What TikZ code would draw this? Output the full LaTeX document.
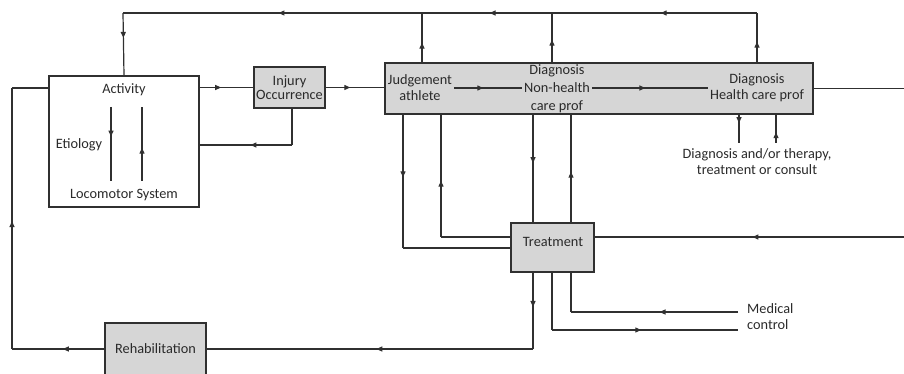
\documentclass[tikz,border=0pt]{standalone}
\usepackage{fontspec}
\setmainfont{Carlito}
\usetikzlibrary{arrows.meta,decorations.markings}
\definecolor{linec}{HTML}{303030}
\definecolor{boxfill}{HTML}{D6D6D6}
\definecolor{txtc}{HTML}{2A2A2A}
\tikzset{
  box/.style={draw=linec, line width=1.2pt, fill=boxfill, inner sep=0pt, align=center, text=txtc},
  plainbox/.style={draw=linec, line width=1.2pt, fill=white, inner sep=0pt},
  lbl/.style={inner sep=2pt, align=center, text=txtc},
  wire/.style={draw=linec, line width=1.2pt},
  midtip/.style={postaction=decorate, decoration={markings,
      mark=at position #1 with {\arrow{Triangle[length=6pt,width=5pt]}}}},
  midtip/.default=0.5
}
\begin{document}
\begin{tikzpicture}[x=1pt, y=-1pt, font=\fontsize{14.3}{18}\selectfont]
\useasboundingbox (0,0) rectangle (904,374);
\clip (0,0) rectangle (904,374);

% boxes
\node[plainbox, minimum width=150pt, minimum height=131pt] (act) at (124,141.5) {};
\node[box, minimum width=71pt, minimum height=41pt] (inj) at (289.5,87.5) {};
\node[box, minimum width=428pt, minimum height=51pt] (big) at (599,88.5) {};
\node[box, minimum width=83pt, minimum height=49pt] (treat) at (552.5,247.5) {};
\node[box, minimum width=101pt, minimum height=52pt] (rehab) at (155.5,349) {Rehabilitation};

% caption of the injury box
\node[lbl, inner sep=0pt] (injtxt) at (289.5,87.5) {Injury\\[-4pt]Occurrence};

% texts inside the activity box
\node[lbl] (activity) at (124,90) {Activity};
\node[lbl] (etio) at (79,145) {Etiology};
\node[lbl] (loco) at (124,195) {Locomotor System};

% texts inside the diagnosis box
\node[lbl] (jud) at (420,88) {Judgement\\[-2pt]athlete};
\node[lbl] (nh) at (557,89) {Diagnosis\\Non-health\\care prof};
\node[lbl] (hcp) at (757,88) {Diagnosis\\[-2pt]Health care prof};

% treatment caption
\node[lbl] (treattxt) at (553,242) {Treatment};

% other labels
\node[lbl] (cons) at (757,162) {Diagnosis and/or therapy,\\[-2pt]treatment or consult};
\node[lbl, anchor=west, align=left] (med) at (745,317) {Medical\\[-2pt]control};

% bend points
\coordinate (tl) at (123,13);
\coordinate (tA) at (422,13);
\coordinate (tB) at (552,13);
\coordinate (tr) at (757,13);
\coordinate (ib) at (292,145);
\coordinate (e1t) at (111,107);
\coordinate (e1b) at (111,181);
\coordinate (e2t) at (142,107);
\coordinate (e2b) at (142,181);
\coordinate (d1) at (739,143);
\coordinate (d2) at (776,143);
\coordinate (v1) at (403,248);
\coordinate (v2) at (441,237);
\coordinate (v3) at (533,0);
\coordinate (v4) at (571,0);
\coordinate (rA) at (904,88.5);
\coordinate (rB) at (904,237);
\coordinate (b1) at (533,349);
\coordinate (b2) at (12,349);
\coordinate (b3) at (12,88);
\coordinate (m1) at (552,330);
\coordinate (m2) at (738,330);
\coordinate (m3) at (571,312);
\coordinate (m4) at (738,312);

% feedback line along the top
\draw[wire, midtip=0.47] (tr) -- (tB);
\draw[wire, midtip=0.48] (tB) -- (tA);
\draw[wire, midtip=0.48] (tA) -- (tl);
\draw[wire, midtip=0.4] (tl) -- (act.north);
\draw[wire, midtip=0.4] (big.north -| tA) -- (tA);
\draw[wire, midtip=0.46] (big.north -| tB) -- (tB);
\draw[wire, midtip=0.42] (big.north -| tr) -- (tr);

% activity -> injury -> diagnosis
\draw[wire, midtip=0.4] (inj.west -| act.east) -- (inj.west);
\draw[wire, midtip=0.42] (inj.east) -- (inj.east -| big.west);
\draw[wire] (inj.south -| ib) -- (ib);
\draw[wire, midtip=0.45] (ib) -- (ib -| act.east);

% etiology arrows
\draw[wire, midtip=0.4] (e1t) -- (e1b);
\draw[wire, midtip=0.45] (e2b) -- (e2t);

% steps inside the diagnosis box
\draw[wire, midtip=0.43] (jud.east) -- (nh.west |- jud.east);
\draw[wire, midtip=0.46] (nh.east |- hcp.west) -- (hcp.west);

% consulting arrows
\draw[wire, midtip=0.3] (big.south -| d1) -- (d1);
\draw[wire, midtip=0.38] (d2) -- (big.south -| d2);

% diagnosis <-> treatment
\draw[wire, midtip=0.47] (big.south -| v1) -- (v1);
\draw[wire] (v1) -- (v1 -| treat.west);
\draw[wire, midtip=0.46] (v2) -- (big.south -| v2);
\draw[wire] (v2 -| treat.west) -- (v2);
\draw[wire, midtip=0.45] (big.south -| v3) -- (treat.north -| v3);
\draw[wire, midtip=0.47] (treat.north -| v4) -- (big.south -| v4);

% right-hand return
\draw[wire] (big.east |- rA) -- (rA);
\draw[wire, midtip=0.49] (rB) -- (rB -| treat.east);

% treatment -> rehabilitation -> activity
\draw[wire, midtip=0.45] (treat.south -| b1) -- (b1);
\draw[wire, midtip=0.48] (b1) -- (rehab.east);
\draw[wire, midtip=0.45] (rehab.west) -- (b2);
\draw[wire, midtip=0.49] (b2) -- (b3);
\draw[wire] (b3) -- (b3 -| act.west);

% medical control
\draw[wire] (treat.south -| m1) -- (m1);
\draw[wire, midtip=0.48] (m1) -- (m2);
\draw[wire, midtip=0.47] (m4) -- (m3);
\draw[wire] (m3) -- (treat.south -| m3);
\end{tikzpicture}
\end{document}
